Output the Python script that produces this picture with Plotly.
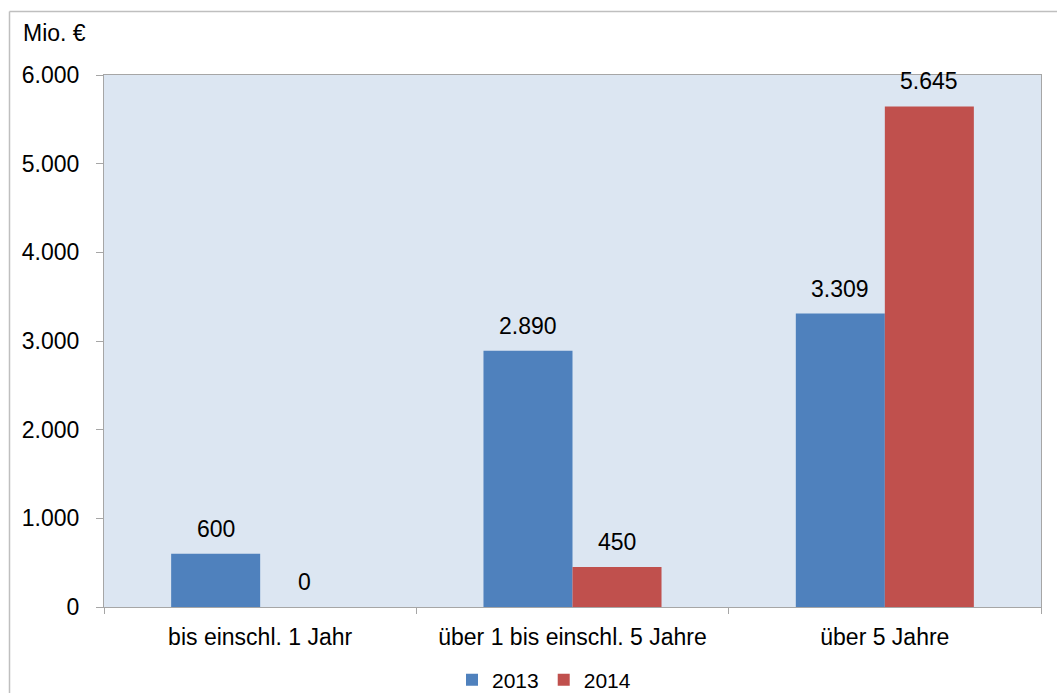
import plotly.graph_objects as go

# Laufzeitklassen und Volumina (Mio. €)
categories = ["bis einschl. 1 Jahr", "über 1 bis einschl. 5 Jahre", "über 5 Jahre"]
series_names = ["2013", "2014"]
values_2013 = [600, 2890, 3309]
values_2014 = [0, 450, 5645]

colors = {"2013": "#4F81BD", "2014": "#C0504D"}
font_family = "Arial, Liberation Sans, sans-serif"

W, H = 1057, 693
margin = dict(l=104, r=16, t=75, b=86, autoexpand=False)
pw = W - margin["l"] - margin["r"]
ph = H - margin["t"] - margin["b"]
bargap = 0.43


def px_x(x):
    """Pixel column -> paper x."""
    return (x - margin["l"]) / pw


def px_y(y):
    """Pixel row -> paper y."""
    return (margin["t"] + ph - y) / ph


fig = go.Figure()
for name, vals in zip(series_names, [values_2013, values_2014]):
    fig.add_trace(go.Bar(
        x=categories, y=vals, name=name,
        marker=dict(color=colors[name], line=dict(width=0)),
    ))

# Value labels above each bar, placed at the bar centre of its group slot
half = (1 - bargap) / 4
for s, vals in enumerate([values_2013, values_2014]):
    offset = -half if s == 0 else half
    for i, v in enumerate(vals):
        fig.add_annotation(
            x=i + offset, y=v, xref="x", yref="y",
            text=f"{v:,}".replace(",", "."),
            showarrow=False, yanchor="middle", yshift=25,
            font=dict(size=23, color="#000000", family=font_family),
        )

# Unit label
fig.add_annotation(
    x=px_x(21), y=px_y(33), xref="paper", yref="paper", text="Mio. €",
    showarrow=False, xanchor="left", yanchor="middle",
    font=dict(size=23, color="#000000", family=font_family),
)

# Outer chart frame: left edge and top edge
fig.add_shape(
    type="line", xref="paper", yref="paper",
    x0=px_x(9.5), x1=px_x(9.5), y0=px_y(693), y1=px_y(11.5),
    line=dict(color="#BFBFBF", width=1.5), layer="below",
)
fig.add_shape(
    type="line", xref="paper", yref="paper",
    x0=px_x(9.5), x1=px_x(1057), y0=px_y(11.5), y1=px_y(11.5),
    line=dict(color="#BFBFBF", width=1.5), layer="below",
)

fig.update_layout(
    width=W, height=H, margin=margin,
    paper_bgcolor="#FFFFFF", plot_bgcolor="#DCE6F2",
    barmode="group", bargap=bargap, bargroupgap=0,
    separators=",.",
    font=dict(family=font_family, size=23, color="#000000"),
    showlegend=True,
    legend=dict(
        orientation="h", x=px_x(544), xanchor="center",
        y=px_y(680), yanchor="middle",
        font=dict(size=21, family=font_family, color="#000000"),
        itemwidth=30, traceorder="normal", bgcolor="rgba(0,0,0,0)",
    ),
    xaxis=dict(
        type="category", showgrid=False, showline=True, linecolor="#A6A6A6", linewidth=1,
        mirror=True, ticks="outside", tickson="boundaries", ticklen=6, tickcolor="#A6A6A6",
        tickfont=dict(size=23, family=font_family, color="#000000"),
        ticklabelstandoff=9, zeroline=False,
    ),
    yaxis=dict(
        range=[0, 6000], dtick=1000, tickformat=",d", showgrid=False,
        showline=True, linecolor="#A6A6A6", linewidth=1, mirror=True,
        ticks="outside", ticklen=7, tickcolor="#A6A6A6",
        tickfont=dict(size=23, family=font_family, color="#000000"),
        ticklabelstandoff=12, zeroline=False,
    ),
)

fig.write_html("out.html")
